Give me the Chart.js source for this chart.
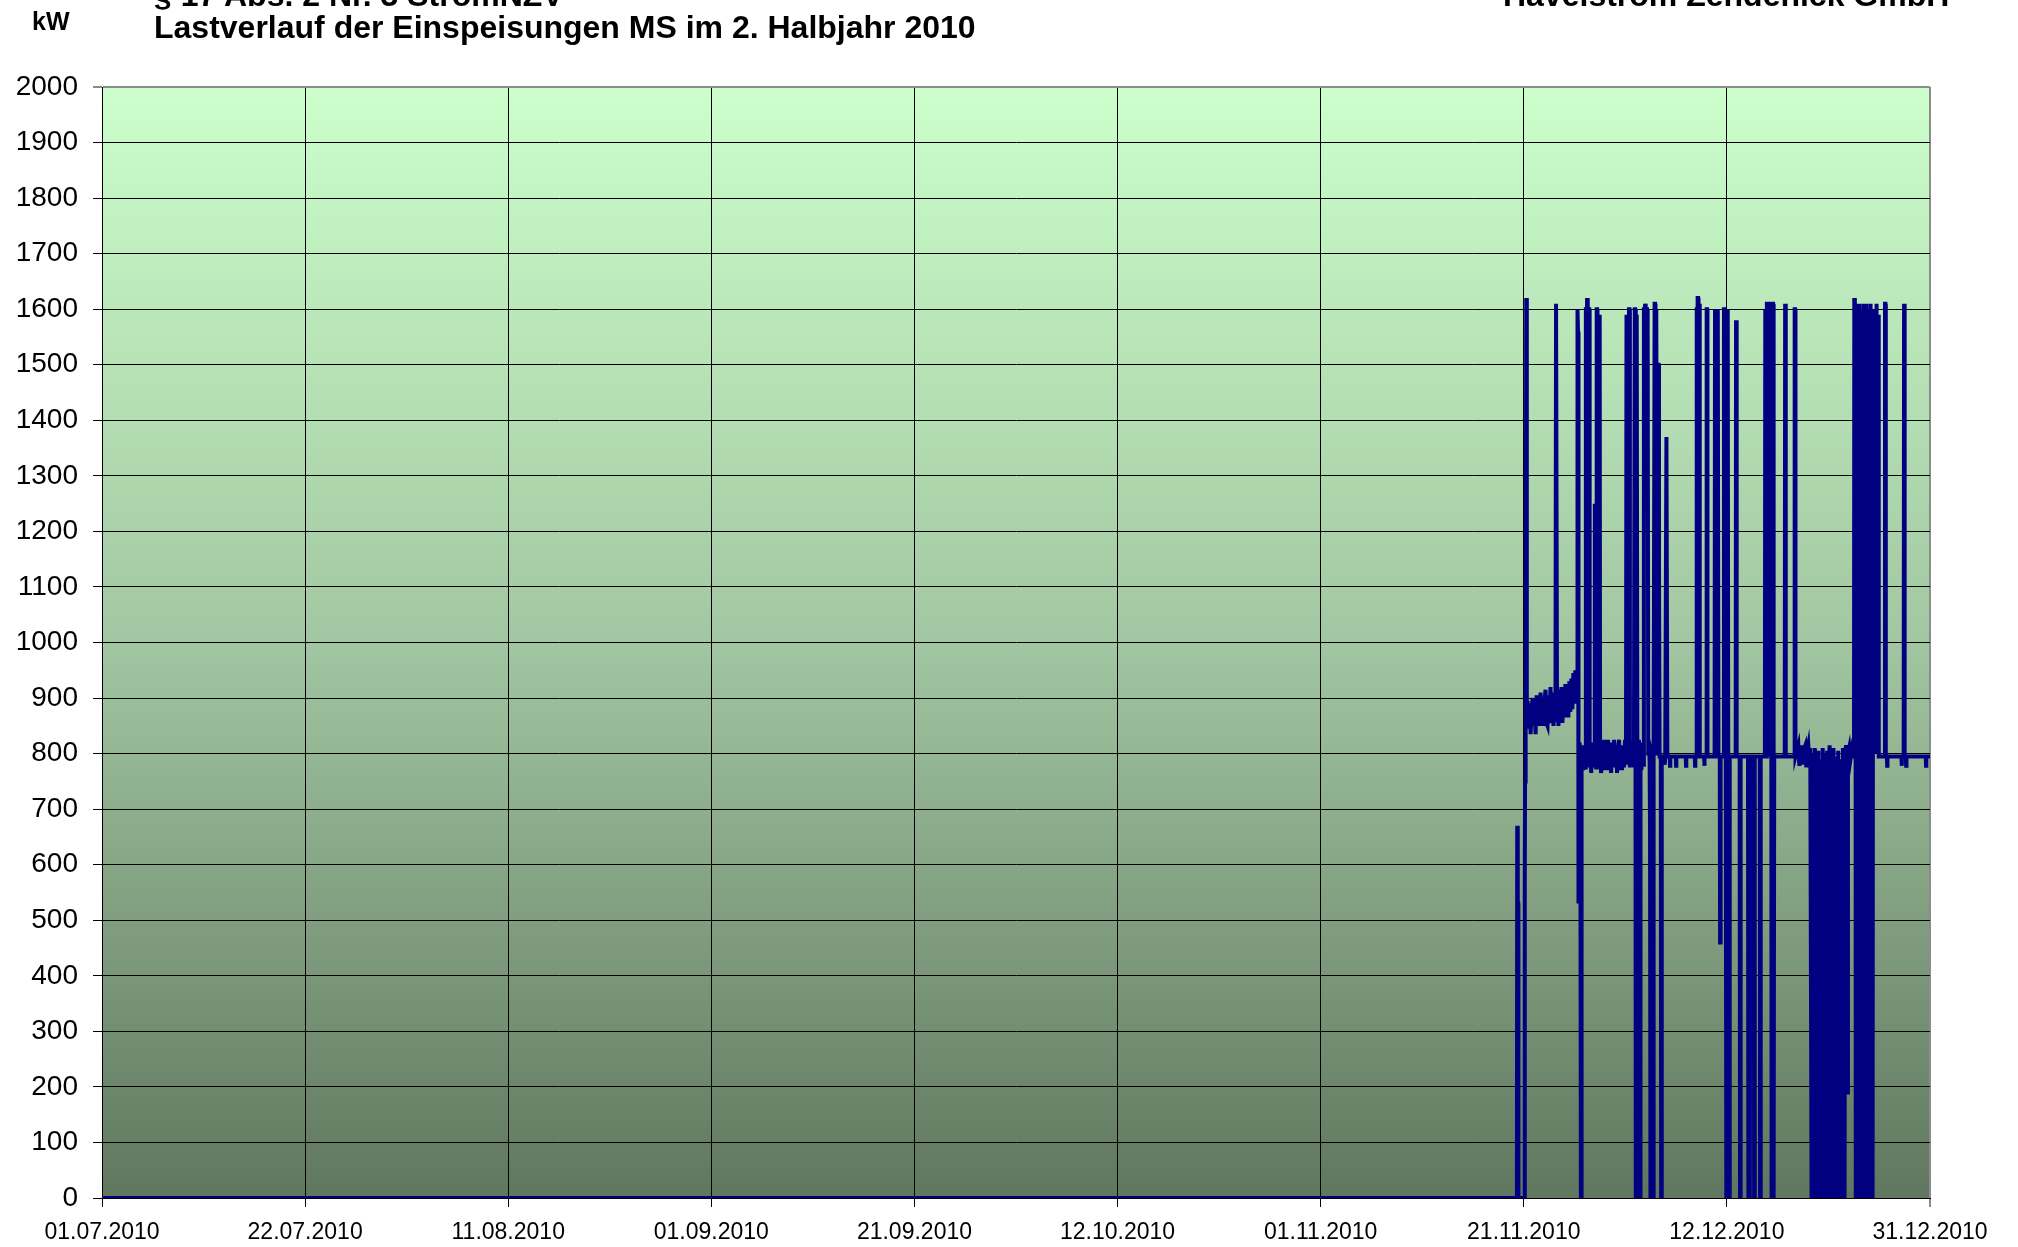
<!DOCTYPE html>
<html lang="de">
<head>
<meta charset="utf-8">
<title>Lastverlauf der Einspeisungen MS im 2. Halbjahr 2010</title>
<script src="https://cdn.jsdelivr.net/npm/chart.js@4.4.1/dist/chart.umd.min.js"></script>
<style>
    html, body { margin: 0; padding: 0; background: #fff; overflow: hidden; }
    #wrap { position: relative; width: 2018px; height: 1247px; overflow: hidden; }
    #chart { position: absolute; left: 0; top: 0; }
    .hdr {
        position: absolute;
        font-family: 'Liberation Sans', Arial, sans-serif;
        font-weight: bold;
        color: #000;
        white-space: nowrap;
        line-height: 1;
    }
</style>
</head>
<body>
<div id="wrap">
    <canvas id="chart" width="2018" height="1247"></canvas>
    <div class="hdr" style="left:154px; top:-21px; font-size:32px;">§ 17 Abs. 2 Nr. 3 StromNZV</div>
    <div class="hdr" style="left:1503px; top:-21px; font-size:32px;">Havelstrom Zehdenick GmbH</div>
    <div class="hdr" style="left:32px; top:9px; font-size:25px;">kW</div>
    <div class="hdr" style="left:154px; top:11px; font-size:32px;">Lastverlauf der Einspeisungen MS im 2. Halbjahr 2010</div>
</div>
<script>
// Achsen
const tickLabels = ['01.07.2010', '22.07.2010', '11.08.2010', '01.09.2010', '21.09.2010',
                    '12.10.2010', '01.11.2010', '21.11.2010', '12.12.2010', '31.12.2010'];
const dayRange = 184;   // Tage ab 01.07.2010 00:00 bis 31.12.2010 24:00
const kwMax = 2000;
const kwStep = 100;

// Lastverlauf: [Tag ab 01.07.2010, kW]
const idleSummer = [[0, 0], [142.42, 0]];

const firstStart = [
    [142.45, 670], [142.50, 670], [142.51, 530], [142.55, 530], [142.57, 0], [143.18, 0],
    [143.21, 570], [143.24, 750], [143.27, 880], [143.33, 850], [143.36, 1620], [143.40, 1620], [143.43, 860]
];

const bandNovHigh = [
    [143.5, 895], [143.6, 845], [143.7, 890], [143.8, 835], [143.9, 880], [144.0, 900], [144.1, 850], [144.2, 890], [144.3, 835], [144.4, 905],
    [144.5, 855], [144.6, 895], [144.7, 850], [144.8, 910], [144.9, 855], [145.0, 900], [145.1, 850], [145.2, 895], [145.3, 915], [145.4, 855],
    [145.5, 850], [145.6, 905], [145.7, 855], [145.8, 920], [145.9, 855], [146.0, 900], [146.1, 850], [146.2, 910], [146.3, 860],
    [146.36, 1610], [146.42, 1610], [146.46, 860],
    [146.5, 900], [146.6, 850], [146.7, 915], [146.8, 860], [146.9, 920], [147.0, 855], [147.1, 905], [147.2, 865], [147.3, 925], [147.4, 870],
    [147.5, 920], [147.6, 865], [147.7, 930], [147.8, 875], [147.9, 935], [148.0, 880], [148.1, 945], [148.2, 890], [148.3, 950], [148.4, 900]
];

const switchOver = [
    [148.47, 940], [148.50, 1600], [148.54, 1600], [148.57, 1560], [148.60, 530], [148.64, 530], [148.68, 820],
    [148.74, 775], [148.80, 810], [148.86, 0], [148.90, 0], [148.93, 790]
];

const bandNovLow = [
    [149.0, 815], [149.1, 770], [149.2, 810], [149.3, 775], [149.36, 1600], [149.40, 1600], [149.44, 790], [149.48, 1620], [149.53, 1620], [149.57, 800],
    [149.62, 1560], [149.66, 1600], [149.70, 1600], [149.74, 775], [149.8, 815], [149.9, 765], [150.0, 820], [150.1, 775], [150.2, 810], [150.26, 1250], [150.30, 800],
    [150.4, 775], [150.45, 1600], [150.49, 1600], [150.53, 775], [150.6, 815], [150.70, 1580], [150.75, 1590], [150.79, 790], [150.9, 765], [151.0, 815],
    [151.1, 775], [151.2, 825], [151.3, 770], [151.4, 815], [151.5, 775], [151.6, 825], [151.7, 770], [151.8, 810], [151.9, 765], [152.0, 820],
    [152.1, 775], [152.2, 825], [152.3, 775], [152.4, 815], [152.5, 765], [152.6, 810], [152.7, 825], [152.8, 770], [152.9, 815], [153.0, 770],
    [153.1, 815], [153.2, 775], [153.3, 825], [153.4, 790], [153.45, 1590], [153.50, 1590], [153.54, 780], [153.62, 815], [153.70, 1600], [153.75, 1600], [153.79, 775],
    [153.9, 815], [154.0, 775], [154.1, 825], [154.2, 775], [154.28, 1600], [154.33, 1600], [154.37, 800], [154.40, 0], [154.43, 0], [154.46, 1590], [154.50, 1590], [154.54, 815],
    [154.6, 770], [154.7, 825], [154.78, 0], [154.82, 0], [154.86, 800], [154.95, 770], [155.05, 820], [155.15, 780], [155.20, 1600], [155.24, 1600],
    [155.28, 1500], [155.32, 1610], [155.36, 1610], [155.40, 1580], [155.44, 1500], [155.48, 1600], [155.52, 1600], [155.56, 1500], [155.60, 1590], [155.64, 800],
    [155.70, 820], [155.78, 785]
];

const lateNov = [
    [155.82, 660], [155.85, 660], [155.88, 0], [155.92, 0], [155.96, 800], [156.08, 790], [156.12, 0], [156.16, 0], [156.20, 800],
    [156.28, 1610], [156.33, 1610], [156.37, 800], [156.45, 1600], [156.49, 1600], [156.53, 800], [156.62, 1500], [156.68, 1500], [156.72, 1160],
    [156.78, 795], [156.90, 795], [156.94, 0], [156.98, 0], [157.02, 795], [157.2, 795], [157.3, 780], [157.35, 795],
    [157.47, 1370], [157.52, 1370], [157.56, 795]
];

const flatDecember = [
    [157.80, 795], [157.83, 778], [157.86, 795], [158.41, 795], [158.44, 778], [158.47, 795], [159.41, 795], [159.44, 778], [159.47, 795],
    [160.32, 795], [160.35, 778], [160.38, 795],
    [160.48, 795], [160.52, 1600], [160.56, 1600], [160.60, 795], [160.62, 1620], [160.66, 1620], [160.70, 795], [160.76, 1610], [160.80, 1610], [160.84, 795],
    [161.26, 795], [161.29, 778], [161.32, 795], [161.48, 795], [161.52, 1600], [161.56, 1600], [161.60, 795],
    [162.32, 795], [162.36, 1600], [162.40, 1600], [162.44, 795], [162.58, 795], [162.62, 1600], [162.66, 1600], [162.70, 795],
    [162.84, 795], [162.87, 460], [162.91, 460], [162.94, 795],
    [163.22, 795], [163.26, 1600], [163.30, 1600], [163.34, 795], [163.40, 1580], [163.44, 795], [163.50, 0], [163.54, 0], [163.58, 795],
    [163.62, 1600], [163.66, 1600], [163.70, 630], [163.74, 630], [163.78, 0], [163.82, 0], [163.86, 795],
    [164.44, 795], [164.48, 1580], [164.52, 1580], [164.56, 795],
    [164.84, 795], [164.88, 0], [164.92, 0], [164.96, 795],
    [165.68, 795], [165.72, 0], [165.76, 0], [165.80, 795], [165.84, 0], [165.88, 0], [165.92, 795],
    [166.26, 795], [166.30, 0], [166.34, 0], [166.38, 795],
    [166.86, 795], [166.90, 0], [166.94, 0], [166.98, 795],
    [167.38, 795], [167.42, 1600], [167.46, 1600], [167.50, 795], [167.58, 1610], [167.62, 1610], [167.66, 795], [167.78, 1610], [167.82, 1610], [167.86, 795],
    [167.96, 1600], [168.00, 1600], [168.04, 795], [168.08, 0], [168.12, 0], [168.16, 1610], [168.20, 1610], [168.24, 0], [168.28, 0], [168.32, 795],
    [169.38, 795], [169.42, 1610], [169.46, 1610], [169.50, 795],
    [170.34, 795], [170.38, 1600], [170.42, 1600], [170.46, 795]
];

const bandChristmas = [
    [170.75, 815], [170.85, 778], [170.95, 812], [171.05, 785], [171.15, 815], [171.25, 780], [171.35, 810], [171.45, 815], [171.55, 775], [171.65, 805],
    [171.75, 815], [171.85, 785], [171.95, 810], [172.08, 0], [172.12, 800], [172.25, 785], [172.36, 0], [172.40, 810],
    [172.52, 780], [172.62, 805], [172.70, 0], [172.76, 805], [172.92, 0], [172.98, 790], [173.14, 0], [173.20, 810],
    [173.36, 0], [173.42, 800], [173.58, 0], [173.64, 805], [173.76, 0], [173.82, 790], [173.90, 815],
    [173.98, 0], [174.04, 800], [174.22, 0], [174.28, 810], [174.46, 0], [174.52, 795], [174.70, 0], [174.76, 805],
    [174.94, 0], [175.00, 790], [175.18, 0], [175.24, 810], [175.40, 0], [175.46, 795],
    [175.55, 815], [175.64, 800], [175.70, 190], [175.74, 800], [175.88, 812], [176.0, 790], [176.15, 808], [176.30, 795]
];

const denseEnd = [
    [176.35, 800], [176.38, 1620], [176.42, 1620], [176.45, 800], [176.50, 1600], [176.53, 0], [176.62, 1610], [176.68, 0], [176.76, 1600], [176.82, 0],
    [176.90, 1610], [176.96, 0], [177.04, 1600], [177.10, 0], [177.18, 1600], [177.24, 0], [177.32, 1610], [177.38, 0], [177.46, 1600], [177.52, 0],
    [177.60, 1610], [177.66, 0], [177.74, 1600], [177.80, 0], [177.88, 1600], [177.94, 0], [178.02, 1610], [178.08, 0], [178.16, 1600], [178.22, 0],
    [178.28, 1600], [178.32, 800], [178.42, 1600], [178.46, 1600], [178.50, 800], [178.62, 1610], [178.66, 1610], [178.70, 800],
    [178.78, 1590], [178.82, 1590], [178.86, 795]
];

const tailDecember = [
    [179.43, 795], [179.47, 1610], [179.51, 1610], [179.55, 795], [179.66, 795], [179.69, 778], [179.72, 795],
    [181.12, 795], [181.15, 778], [181.18, 795], [181.35, 795], [181.39, 1610], [181.43, 1610], [181.47, 795],
    [181.57, 795], [181.60, 778], [181.63, 795], [183.57, 795], [183.60, 778], [183.63, 795], [184, 795]
];

const loadPoints = [].concat(idleSummer, firstStart, bandNovHigh, switchOver, bandNovLow,
                             lateNov, flatDecember, bandChristmas, denseEnd, tailDecember)
    .map(([x, y]) => ({ x, y }));

// Hintergrundverlauf der Zeichenfläche
const plotBackground = {
    id: 'plotBackground',
    beforeDraw(chart) {
        const { ctx, chartArea: { left, top, right, bottom } } = chart;
        const g = ctx.createLinearGradient(0, top, 0, bottom);
        g.addColorStop(0, '#ccffcc');
        g.addColorStop(0.5, '#a2c6a1');
        g.addColorStop(1, '#5f775e');
        ctx.save();
        ctx.fillStyle = g;
        ctx.fillRect(left, top, right - left, bottom - top);
        ctx.restore();
    }
};

const fontFamily = "'Liberation Sans', Arial, sans-serif";

new Chart(document.getElementById('chart'), {
    type: 'line',
    data: {
        datasets: [{
            label: 'Einspeisung MS',
            data: loadPoints,
            borderColor: '#000080',
            borderWidth: 4,
            pointRadius: 0,
            tension: 0,
            fill: false
        }]
    },
    options: {
        responsive: false,
        animation: false,
        events: [],
        layout: { padding: { left: 0, right: 88, top: 87, bottom: 0 } },
        plugins: {
            legend: { display: false },
            tooltip: { enabled: false }
        },
        scales: {
            x: {
                type: 'linear',
                min: 0,
                max: dayRange,
                afterBuildTicks: axis => {
                    axis.ticks = tickLabels.map((_, i) => ({ value: i * dayRange / (tickLabels.length - 1) }));
                },
                afterFit: axis => { axis.height = 49; },
                ticks: {
                    autoSkip: false,
                    maxRotation: 0,
                    padding: 12,
                    color: '#000',
                    font: { family: fontFamily, size: 23 },
                    callback: (value, index) => tickLabels[index]
                },
                grid: {
                    color: ctx => ctx.index === tickLabels.length - 1 ? '#8c8c8c' : '#000',
                    lineWidth: ctx => ctx.index === tickLabels.length - 1 ? 2 : 1,
                    tickLength: 9
                },
                border: { color: '#000', width: 1 }
            },
            y: {
                min: 0,
                max: kwMax,
                afterFit: axis => { axis.width = 102; },
                ticks: {
                    stepSize: kwStep,
                    padding: 15,
                    color: '#000',
                    font: { family: fontFamily, size: 28 },
                    callback: value => String(value)
                },
                grid: {
                    color: ctx => ctx.tick && ctx.tick.value === kwMax ? '#8c8c8c' : '#000',
                    lineWidth: ctx => ctx.tick && ctx.tick.value === kwMax ? 2 : 1,
                    tickLength: 9
                },
                border: { color: '#000', width: 1 }
            }
        }
    },
    plugins: [plotBackground]
});
</script>
</body>
</html>
